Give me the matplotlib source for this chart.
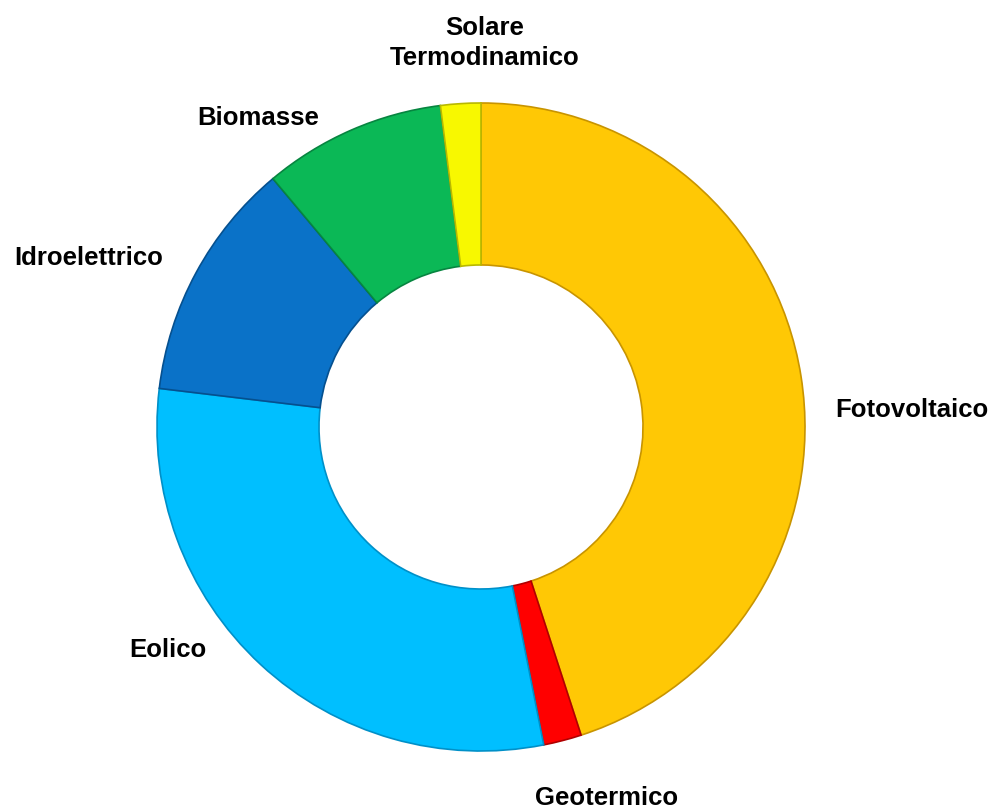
"""Donut chart: renewable sources share (Italy)."""

import matplotlib
matplotlib.use("Agg")
import matplotlib.pyplot as plt
import numpy as np

# --- data -------------------------------------------------------------
sources = ["Fotovoltaico", "Geotermico", "Eolico", "Idroelettrico",
           "Biomasse", "Solare\nTermodinamico"]
shares = [45.0, 1.9, 30.0, 12.0, 9.1, 2.0]
colors = ["#FFC805", "#FF0000", "#00BFFF", "#0A72C8", "#0BB856", "#F8F800"]
edges = ["#C89400", "#B00000", "#0090C8", "#05508F", "#078540", "#B8B800"]

# label anchors in pixel coords (x, baseline y from top), and alignment
label_pos = [(835, 417), (607, 805), (168, 657), (89, 265), (258, 125), (485, 65)]
label_ha = ["left", "center", "center", "center", "center", "center"]

W, H = 997, 810
CX, CY, R = 481, 427, 324

fig = plt.figure(figsize=(W / 100, H / 100), dpi=100)
ax = fig.add_axes([0, 0, 1, 1])

wedges, _ = ax.pie(
    shares,
    colors=colors,
    startangle=90,
    counterclock=False,
    center=(CX, H - CY),
    radius=R,
    wedgeprops=dict(width=R * 0.5, linewidth=1.2),
)
for w, ec in zip(wedges, edges):
    w.set_edgecolor(ec)

ax.set_xlim(0, W)
ax.set_ylim(0, H)
ax.set_aspect("auto")
ax.axis("off")

for name, (px, py), ha in zip(sources, label_pos, label_ha):
    ax.text(px, H - py, name, ha=ha, va="baseline",
            fontsize=18.5, fontweight="bold", family="Liberation Sans",
            color="black", linespacing=1.3, multialignment="center")

fig.savefig("out.png", dpi=100)
